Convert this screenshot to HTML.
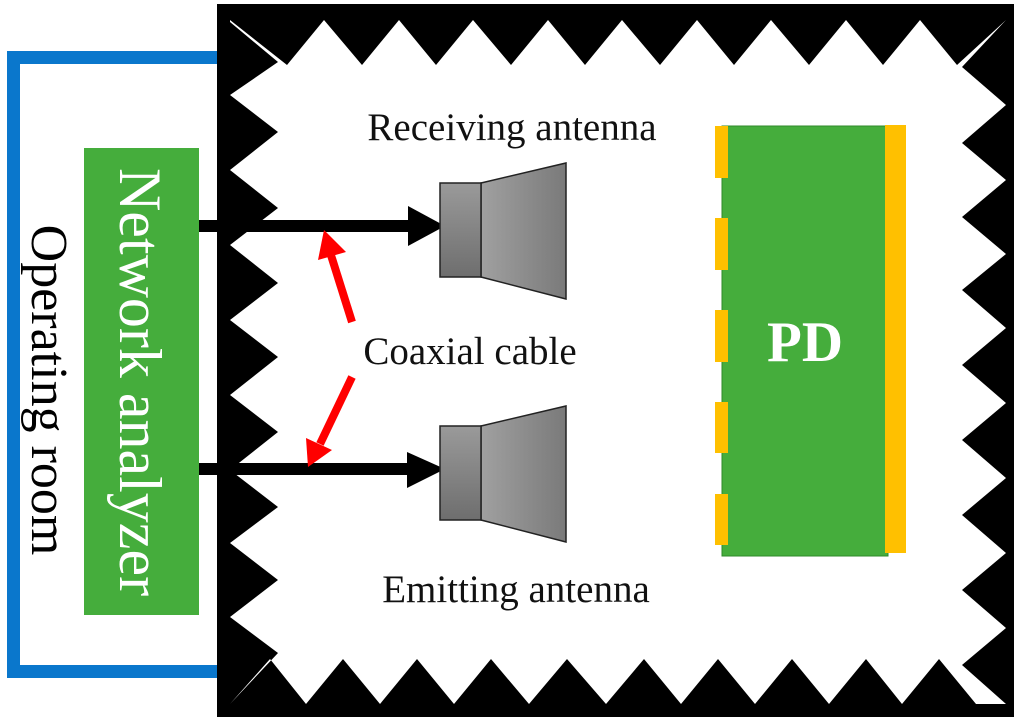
<!DOCTYPE html>
<html><head><meta charset="utf-8"><style>
html,body{margin:0;padding:0;background:#fff;}
svg{display:block;}
text{font-family:"Liberation Serif",serif;}
</style></head><body>
<svg width="1024" height="721" viewBox="0 0 1024 721" xmlns="http://www.w3.org/2000/svg">
<defs>
<linearGradient id="g1" x1="0" y1="0" x2="0" y2="1"><stop offset="0" stop-color="#9a9a9a"/><stop offset="1" stop-color="#6e6e6e"/></linearGradient>
<linearGradient id="g2" x1="0" y1="0" x2="1" y2="0"><stop offset="0" stop-color="#a0a0a0"/><stop offset="1" stop-color="#7a7a7a"/></linearGradient>
</defs>
<rect x="13.5" y="57.5" width="210" height="614" fill="none" stroke="#0a77cc" stroke-width="13"/>
<rect x="84" y="148" width="115" height="467" fill="#45ad3c"/>
<text transform="translate(120,382) rotate(90)" text-anchor="middle" font-size="60" fill="#fff">Network analyzer</text>
<text transform="translate(32,390) rotate(90)" text-anchor="middle" font-size="52" fill="#000">Operating room</text>
<rect x="217" y="4" width="797" height="713" fill="#000"/>
<polygon fill="#fff" points="230,20 287,65 324,20 362,65 399,20 436,65 473,20 511,65 548,20 585,65 622,20 660,65 697,20 734,65 771,20 809,65 846,20 883,65 920,20 957,65 1006,20 962,67 1006,105 962,143 1006,180 962,217 1006,254 962,290 1006,328 962,365 1006,403 962,440 1006,478 962,515 1006,553 962,590 1006,628 962,665 1006,704 976,704 939,659 902,704 866,659 829,704 792,659 755,704 718,659 681,704 644,659 606,704 567,659 529,704 491,659 454,704 417,659 380,704 343,659 306,704 270,659 230,704 278,653 230,617 278,580 230,543 278,507 230,470 278,432 230,395 278,357 230,320 278,283 230,245 278,208 230,170 278,132 230,95 278,62 230,22"/>
<rect x="199" y="220" width="212" height="12" fill="#000"/>
<polygon points="408,206 445,226 408,246" fill="#000"/>
<rect x="199" y="463" width="212" height="12" fill="#000"/>
<polygon points="407,452 445,469 407,488" fill="#000"/>
<g stroke="#222" stroke-width="1.5">
<polygon points="481,183 566,163 566,299 481,277" fill="url(#g2)"/>
<rect x="440" y="183" width="41" height="94" fill="url(#g1)"/>
<polygon points="481,426 566,406 566,542 481,520" fill="url(#g2)"/>
<rect x="440" y="426" width="41" height="94" fill="url(#g1)"/>
</g>
<line x1="352" y1="322" x2="330" y2="252" stroke="#f00" stroke-width="8"/>
<polygon points="324,230 346,252 318,260" fill="#f00"/>
<line x1="352" y1="377" x2="320" y2="444" stroke="#f00" stroke-width="8"/>
<polygon points="308,467 306,438 332,450" fill="#f00"/>
<text x="512" y="140" text-anchor="middle" font-size="39" fill="#111">Receiving antenna</text>
<text x="470" y="364" text-anchor="middle" font-size="39" fill="#111">Coaxial cable</text>
<text x="516" y="602" text-anchor="middle" font-size="39" fill="#111">Emitting antenna</text>
<rect x="722" y="126" width="166" height="430" fill="#45ad3c" stroke="#2f8a2a" stroke-width="1"/>
<rect x="885" y="125" width="21" height="428" fill="#ffc000"/>
<rect x="715" y="126" width="13" height="52" fill="#ffc000"/>
<rect x="715" y="218" width="13" height="52" fill="#ffc000"/>
<rect x="715" y="310" width="13" height="52" fill="#ffc000"/>
<rect x="715" y="402" width="13" height="51" fill="#ffc000"/>
<rect x="715" y="494" width="13" height="51" fill="#ffc000"/>
<text x="805" y="361" text-anchor="middle" font-size="57" font-weight="bold" fill="#fff">PD</text>
</svg>
</body></html>
